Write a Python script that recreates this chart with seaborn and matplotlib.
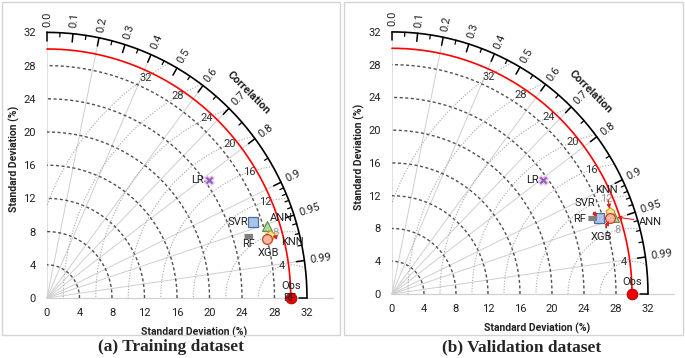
import numpy as np
import pandas as pd
import matplotlib
matplotlib.use("Agg")
import matplotlib.pyplot as plt
import seaborn as sns
from matplotlib.patches import Rectangle

# ---------------- data ----------------
models = ["LR", "SVR", "ANN", "KNN", "XGB", "RF"]
obs_std = 30.0
train_std = [24.45, 26.92, 28.46, 28.43, 28.01, 25.91]
train_corr = [0.814, 0.940, 0.952, 0.964, 0.967, 0.957]
valid_std = [23.46, 27.49, 29.35, 29.06, 28.76, 26.64]
valid_corr = [0.806, 0.942, 0.947, 0.938, 0.947, 0.938]
std_ticks = [0, 4, 8, 12, 16, 20, 24, 28, 32]
rmsd_levels = [4, 8, 12, 16, 20, 24, 28, 32]
corr_major = [0.0, 0.1, 0.2, 0.3, 0.4, 0.5, 0.6, 0.7, 0.8, 0.9, 0.95, 0.99]
corr_minor = [0.05, 0.15, 0.25, 0.35, 0.45, 0.55, 0.65, 0.75, 0.85,
              0.91, 0.92, 0.93, 0.94, 0.96, 0.97, 0.98]
corr_lines = [0.2, 0.4, 0.6, 0.7, 0.8, 0.9, 0.95, 0.99]
captions = ["(a) Training dataset", "(b) Validation dataset"]

# ---------------- styles ----------------
marker_style = {
    "LR":  dict(marker="X", fc="#9b59b6", ec="#e3c8f0", s=45),
    "SVR": dict(marker="s", fc="#a9c4eb", ec="#4a6fa5", s=45),
    "ANN": dict(marker="^", fc="#b6d7a8", ec="#5b9a45", s=50),
    "KNN": dict(marker="p", fc="#ffe599", ec="#c9a227", s=45),
    "XGB": dict(marker="o", fc="#f4b6a0", ec="#cc4125", s=50),
    "RF":  dict(marker=[(-1, -0.38), (1, -0.38), (1, 0.38), (-1, 0.38)],
                fc="#7f7f7f", ec="#7f7f7f", s=40),
}

# label layout: text position (data units), ha, arrow?
train_labels = {
    "LR": (19.3, 14.2, "right", False),
    "SVR": (24.8, 9.2, "right", False),
    "ANN": (27.4, 9.6, "left", False),
    "KNN": (28.8, 6.8, "left", True),
    "XGB": (27.2, 5.4, "center", False),
    "RF": (24.8, 6.5, "center", False),
}
valid_labels = {
    "LR": (18.3, 13.9, "right", False),
    "SVR": (24.1, 11.1, "center", True),
    "ANN": (30.8, 8.8, "left", True),
    "KNN": (26.8, 12.7, "center", True),
    "XGB": (26.2, 6.9, "center", True),
    "RF": (24.2, 9.2, "right", False),
}
# RMSD labels drawn lighter (partly behind markers) per panel
faded_rmsd = [[8], [8, 12]]

sns.set_theme(style="white")
plt.rcParams["font.family"] = ["Roboto", "DejaVu Sans"]

fig = plt.figure(figsize=(6.85, 3.58), dpi=100)

# panel frames
for x0, x1 in [(2, 340), (344, 683)]:
    fig.patches.append(Rectangle((x0 / 685, 1 - 335 / 358), (x1 - x0) / 685, 333 / 358,
                                 transform=fig.transFigure, fill=False,
                                 edgecolor="#d4d4d4", lw=1.0))

axes_pos = [
    [47 / 685, 1 - 298 / 358, 35 * 8.125 / 685, 33.5 * 8.3 / 358],
    [392 / 685, 1 - 294 / 358, 35 * 8.0 / 685, 33.5 * 8.19 / 358],
]


def pxy(r, c):
    th = np.arccos(np.clip(c, -1, 1))
    return r * np.cos(th), r * np.sin(th)


def draw_taylor(ax, stds, corrs, labels, extra_rf_at_obs, faded):
    ax.set_xlim(0, 35)
    ax.set_ylim(0, 33.5)
    for s in ax.spines.values():
        s.set_visible(False)
    ax.set_xticks(std_ticks)
    ax.set_yticks(std_ticks)
    ax.set_xticklabels([str(t) for t in std_ticks])
    ax.set_yticklabels([str(t) for t in std_ticks])
    ax.tick_params(axis="both", length=0, labelsize=8, colors="#222222")
    ax.tick_params(axis="x", pad=7)
    ax.tick_params(axis="y", pad=8)
    ax.set_xlabel("Standard Deviation (%)", fontsize=7.5, fontweight="bold", color="#222222")
    ax.set_ylabel("Standard Deviation (%)", fontsize=7.5, fontweight="bold", color="#222222")
    ax.xaxis.set_label_coords(18.1 / 35, -0.105)
    ax.yaxis.set_label_coords(-0.095, 0.5)

    t = np.linspace(0, np.pi / 2, 300)
    # axes lines
    ax.plot([0, 35.2], [0, 0], color="#d0d0d0", lw=0.9, clip_on=False, zorder=1)
    ax.plot([0, 0], [0, 32], color="#e0e0e0", lw=0.8, clip_on=False, zorder=1)
    # correlation radial lines
    for c in corr_lines:
        x, y = pxy(32, c)
        ax.plot([0, x], [0, y], color="#cfcfcf", lw=0.7, zorder=1, clip_on=False)
    # std arcs
    for r in std_ticks[1:-1]:
        ax.plot(r * np.cos(t), r * np.sin(t), color="#505050", lw=1.0,
                ls=(0, (2.2, 1.8)), zorder=2, clip_on=False)
    # RMSD arcs
    phi = np.linspace(0, np.pi, 600)
    for r in rmsd_levels:
        x = obs_std + r * np.cos(phi)
        y = r * np.sin(phi)
        m = (x >= 0) & (np.hypot(x, y) <= 32)
        x = np.where(m, x, np.nan)
        y = np.where(m, y, np.nan)
        ax.plot(x, y, color="#a8a8a8", lw=0.8, ls=(0, (1, 1.5)), zorder=2, clip_on=False)
        R = 29.2
        lx = (R ** 2 - r ** 2 + obs_std ** 2) / (2 * obs_std)
        ly = np.sqrt(max(R ** 2 - lx ** 2, 0))
        ax.text(lx, ly, str(r), fontsize=8,
                color="#9a9a9a" if r in faded else "#333333",
                ha="center", va="center", zorder=3, clip_on=False)
    # obs std circle
    ax.plot(obs_std * np.cos(t), obs_std * np.sin(t), color="#ff0000", lw=1.2, zorder=3,
            clip_on=False)
    # outer arc
    ax.plot(32 * np.cos(t), 32 * np.sin(t), color="black", lw=1.2, zorder=3, clip_on=False)
    for c in corr_major + [1.0]:
        x0, y0 = pxy(32, c)
        x1, y1 = pxy(31.0, c)
        ax.plot([x0, x1], [y0, y1], color="black", lw=1.1, zorder=3, clip_on=False)
    for c in corr_minor:
        x0, y0 = pxy(32, c)
        x1, y1 = pxy(31.5, c)
        ax.plot([x0, x1], [y0, y1], color="black", lw=0.9, zorder=3, clip_on=False)
    for c in corr_major:
        x, y = pxy(32.7, c)
        ax.text(x, y, f"{c:g}" if c != 0.0 else "0.0", fontsize=8,
                rotation=np.degrees(np.arccos(c)), rotation_mode="anchor",
                ha="left", va="center", color="#222222", clip_on=False)
    cx, cy = pxy(35.0, np.cos(np.radians(45)))
    ax.text(cx, cy, "Correlation", fontsize=8, fontweight="bold", rotation=-45,
            ha="center", va="center", rotation_mode="anchor", color="#222222")

    # model points
    df = pd.DataFrame({"model": models, "std": stds, "corr": corrs})
    df["x"] = df["std"] * df["corr"]
    df["y"] = df["std"] * np.sqrt(1 - df["corr"] ** 2)
    for _, row in df.iterrows():
        st = marker_style[row["model"]]
        sns.scatterplot(x=[row["x"]], y=[row["y"]], ax=ax, marker=st["marker"],
                        color=st["fc"], edgecolor=st["ec"], linewidth=0.9, s=st["s"],
                        zorder=6, clip_on=False, legend=False)
        tx, ty, ha, arrow = labels[row["model"]]
        if arrow:
            ax.annotate(row["model"], xy=(row["x"], row["y"]), xytext=(tx, ty),
                        fontsize=8, ha=ha, va="center", color="#222222", zorder=7,
                        arrowprops=dict(arrowstyle="-|>", color="#e02020", lw=0.8,
                                        mutation_scale=6, shrinkA=1, shrinkB=2))
        else:
            ax.text(tx, ty, row["model"], fontsize=8, ha=ha, va="center",
                    color="#222222", zorder=7)
    # observation
    sns.scatterplot(x=[obs_std], y=[0], ax=ax, marker="o", color="#ee0000",
                    edgecolor="#aa0000", s=60, zorder=8, clip_on=False, legend=False)
    ax.text(obs_std, 1.5, "Obs", fontsize=8, ha="center", va="center", color="#222222", zorder=7)
    if extra_rf_at_obs:
        ax.text(obs_std - 0.1, 0, "RF", fontsize=8, ha="center", va="center",
                color="#222222", zorder=9, clip_on=False)


panels = [(train_std, train_corr, train_labels, True),
          (valid_std, valid_corr, valid_labels, False)]
for i, (stds, corrs, labels, extra) in enumerate(panels):
    ax = fig.add_axes(axes_pos[i])
    ax.patch.set_alpha(0)
    draw_taylor(ax, stds, corrs, labels, extra, faded_rmsd[i])

fig.text(171 / 685, 1 - 347 / 358, captions[0], fontsize=12.5, fontweight="bold",
         family=["Liberation Serif", "DejaVu Serif"], ha="center", va="center")
fig.text(522 / 685, 1 - 347 / 358, captions[1], fontsize=12.5, fontweight="bold",
         family=["Liberation Serif", "DejaVu Serif"], ha="center", va="center")

fig.savefig("out.png", dpi=100)
